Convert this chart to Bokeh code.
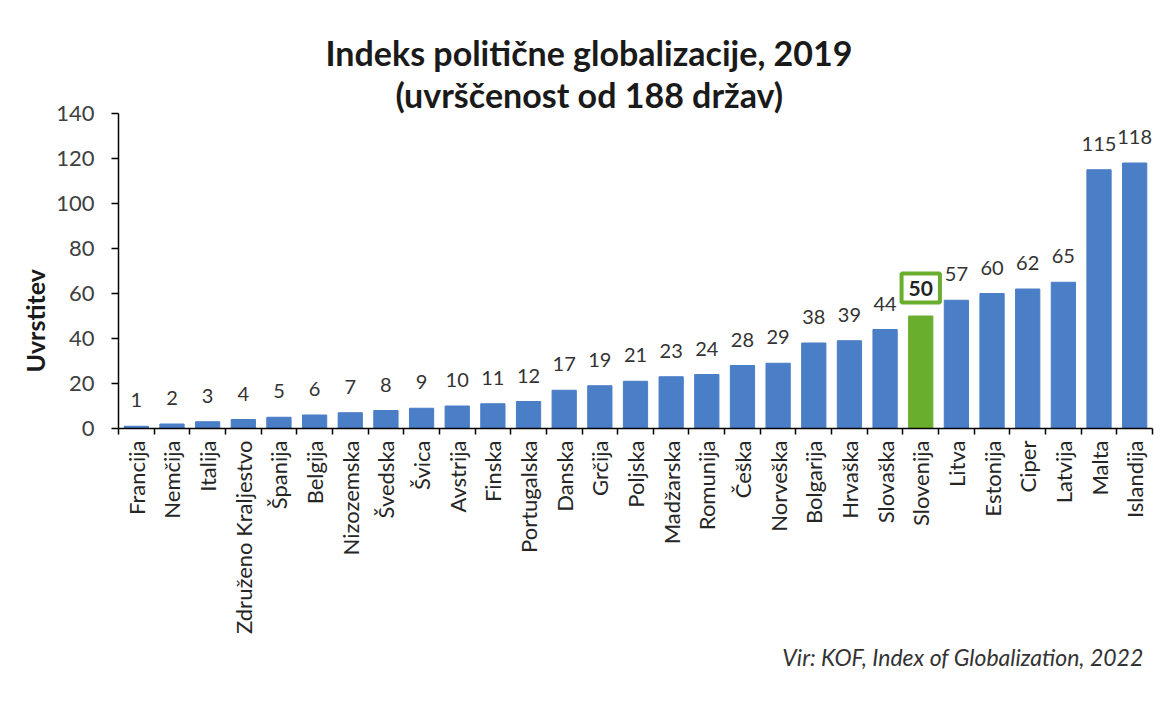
import math
from bokeh.plotting import figure
from bokeh.models import Range1d, FixedTicker, ColumnDataSource, LabelSet, Label, Title
from bokeh.core.properties import value
from bokeh.embed import file_html
from bokeh.resources import INLINE

countries = ["Francija", "Nemčija", "Italija", "Združeno Kraljestvo", "Španija", "Belgija",
             "Nizozemska", "Švedska", "Švica", "Avstrija", "Finska", "Portugalska", "Danska",
             "Grčija", "Poljska", "Madžarska", "Romunija", "Češka", "Norveška", "Bolgarija",
             "Hrvaška", "Slovaška", "Slovenija", "Litva", "Estonija", "Ciper", "Latvija",
             "Malta", "Islandija"]
ranks = [1, 2, 3, 4, 5, 6, 7, 8, 9, 10, 11, 12, 17, 19, 21, 23, 24, 28, 29, 38, 39, 44,
         50, 57, 60, 62, 65, 115, 118]
highlight = "Slovenija"
y_ticks = [0, 20, 40, 60, 80, 100, 120, 140]

title_line1 = "Indeks politične globalizacije, 2019"
title_line2 = "(uvrščenost od 188 držav)"
y_label = "Uvrstitev"
source_note = "Vir: KOF, Index of Globalization, 2022"

FONT = "Lato"
BLUE = "#4A7EC6"
GREEN = "#6AAE2E"

xs = list(range(len(countries)))
colors = [GREEN if c == highlight else BLUE for c in countries]
labels = ["" if c == highlight else str(v) for c, v in zip(countries, ranks)]
src = ColumnDataSource(dict(x=xs, top=ranks, color=colors, label=labels))

p = figure(width=1164, height=690, output_backend="svg", toolbar_location=None,
           x_range=Range1d(-0.5, len(countries) - 0.5), y_range=Range1d(0, 140),
           min_border_left=118, min_border_top=113, min_border_right=12, min_border_bottom=262)
p.title.visible = False
p.outline_line_color = None
p.grid.visible = False
p.background_fill_color = "white"
p.border_fill_color = "white"

p.vbar(x="x", top="top", width=0.68, color="color", source=src)

# axes
xa = p.xaxis[0]
xa.ticker = FixedTicker(ticks=xs, minor_ticks=[i - 0.5 for i in range(len(countries) + 1)])
xa.major_label_overrides = {i: c for i, c in enumerate(countries)}
xa.major_label_orientation = math.pi / 2
xa.major_tick_line_color = None
xa.major_tick_out = 0
xa.major_tick_in = 0
xa.minor_tick_line_color = "black"
xa.minor_tick_line_width = 1.5
xa.minor_tick_out = 6
xa.minor_tick_in = 0
xa.axis_line_color = "black"
xa.axis_line_width = 1.5
xa.major_label_text_font = FONT
xa.major_label_text_font_size = "22px"
xa.major_label_text_color = "#262626"
xa.major_label_standoff = 6

ya = p.yaxis[0]
ya.ticker = FixedTicker(ticks=y_ticks)
ya.minor_tick_line_color = None
ya.major_tick_out = 7
ya.major_tick_in = 0
ya.major_tick_line_color = "black"
ya.major_tick_line_width = 1.5
ya.axis_line_color = "black"
ya.axis_line_width = 1.5
ya.major_label_text_font = FONT
ya.major_label_text_font_size = "22px"
ya.major_label_text_color = "#404040"
ya.major_label_standoff = 17

# value labels
p.add_layout(LabelSet(x="x", y="top", text="label", source=src, text_align="center",
                      text_baseline="middle", y_offset=26, text_font=value(FONT),
                      text_font_size=value("20px"), text_color="#333333"))

hi = countries.index(highlight)
p.add_layout(Label(x=xs[hi], y=ranks[hi], text=str(ranks[hi]), text_align="center",
                   text_baseline="middle", y_offset=28, text_font=FONT,
                   text_font_size="21px", text_font_style="bold", text_color="#222222",
                   border_line_color=GREEN, border_line_width=4,
                   background_fill_color="white", padding=7))

# titles (first added is closest to the frame)
p.add_layout(Title(text=title_line2, align="left", offset=277, text_font=FONT,
                   text_font_size="34px", text_font_style="bold", text_color="#1a1a1a",
                   standoff=-3), "above")
p.add_layout(Title(text=title_line1, align="left", offset=207, text_font=FONT,
                   text_font_size="34px", text_font_style="bold", text_color="#1a1a1a",
                   standoff=1), "above")
p.add_layout(Title(text=y_label, align="left", offset=56, text_font=FONT,
                   text_font_size="25px", text_font_style="bold", text_color="#1a1a1a",
                   standoff=8), "left")
p.add_layout(Title(text=source_note, align="right", offset=9, text_font=FONT,
                   text_font_size="23px", text_font_style="italic", text_color="#333333",
                   standoff=8), "below")

open("out.html", "w").write(file_html(p, INLINE))
